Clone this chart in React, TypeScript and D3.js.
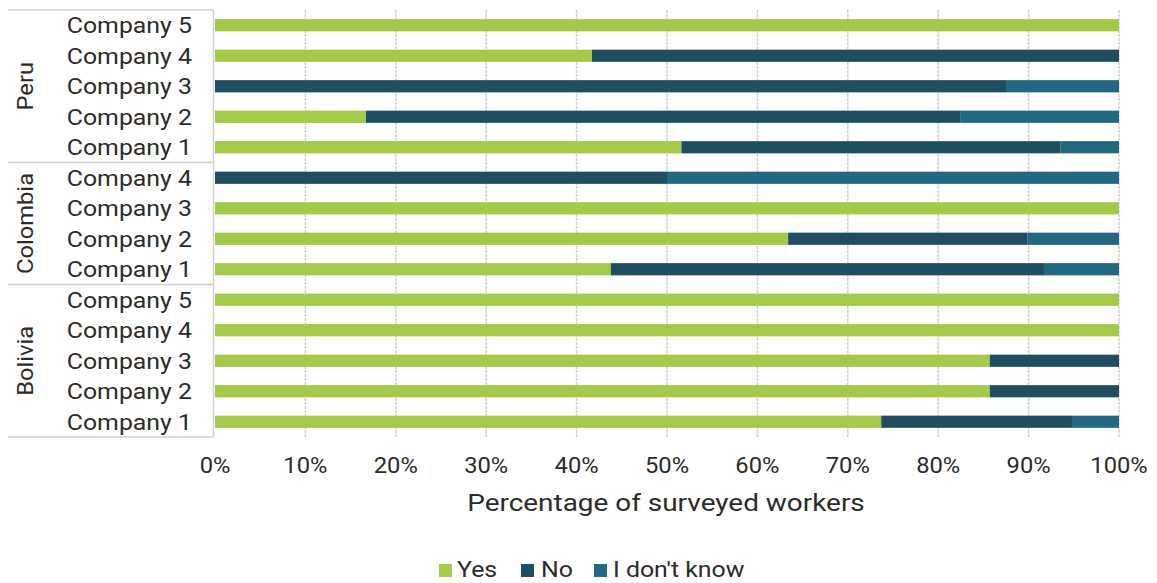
import React from "react";
import * as d3 from "d3";

const countries = ["Peru", "Colombia", "Bolivia"];
const companies: string[][] = [
  ["Company 5", "Company 4", "Company 3", "Company 2", "Company 1"],
  ["Company 4", "Company 3", "Company 2", "Company 1"],
  ["Company 5", "Company 4", "Company 3", "Company 2", "Company 1"],
];
const seriesNames = ["Yes", "No", "I don't know"];
const yesValues = [100, 41.7, 0, 16.7, 51.6, 0, 100, 63.4, 43.8, 100, 100, 85.7, 85.7, 73.7];
const noValues = [0, 58.3, 87.5, 65.8, 41.9, 50, 0, 26.5, 47.9, 0, 0, 14.3, 14.3, 21.1];
const dkValues = [0, 0, 12.5, 17.5, 6.5, 50, 0, 10.1, 8.3, 0, 0, 0, 0, 5.2];
const xTicks = [0, 10, 20, 30, 40, 50, 60, 70, 80, 90, 100];
const colors = ["#A2C948", "#1F4E62", "#226882"];

const W = 1157;
const H = 583;
const FONT = "Roboto, 'Noto Sans', sans-serif";
const TEXT = "#2b2b2b";
const SX = 1.13;

function T(props: {
  x: number;
  y: number;
  anchor?: "start" | "middle" | "end";
  size: number;
  rotate?: boolean;
  sx?: number;
  dy?: string;
  children: React.ReactNode;
}) {
  const s = props.sx ?? SX;
  const tr = props.rotate
    ? `translate(${props.x},${props.y}) rotate(-90) scale(${s},1)`
    : `translate(${props.x},${props.y}) scale(${s},1)`;
  return (
    <text
      transform={tr}
      textAnchor={props.anchor ?? "start"}
      fontSize={props.size}
      dy={props.dy}
      fill={TEXT}
    >
      {props.children}
    </text>
  );
}

export default function App() {
  const rows: { key: string; label: string; country: string; vals: number[] }[] = [];
  let idx = 0;
  companies.forEach((list, ci) => {
    list.forEach((c) => {
      rows.push({
        key: countries[ci] + "|" + c,
        label: c,
        country: countries[ci],
        vals: [yesValues[idx], noValues[idx], dkValues[idx]],
      });
      idx++;
    });
  });

  const top = 10;
  const bottom = 437;
  const x = d3.scaleLinear().domain([0, 100]).range([215, 1119]);
  const y = d3
    .scaleBand<string>()
    .domain(rows.map((r) => r.key))
    .range([top, bottom])
    .paddingInner(0.6)
    .paddingOuter(0.3);
  const step = y.step();

  const stack = d3.stack<number[]>().keys([0, 1, 2] as any).value((d: any, k: any) => d[k]);
  const stacked = stack(rows.map((r) => r.vals) as any);

  let acc = 0;
  const groups = companies.map((list, ci) => {
    const y0 = top + acc * step;
    acc += list.length;
    const y1 = top + acc * step;
    return { name: countries[ci], y0, y1 };
  });

  const legendItems = [
    { name: seriesNames[0], sx: 439, tx: 457 },
    { name: seriesNames[1], sx: 521, tx: 541 },
    { name: seriesNames[2], sx: 594, tx: 613 },
  ];

  return (
    <svg
      width={W}
      height={H}
      style={{ position: "absolute", left: 0, top: 0, background: "#fff" }}
      fontFamily={FONT}
    >
      {xTicks.map((t) => (
        <line
          key={"g" + t}
          x1={t === 0 ? 213.5 : x(t)}
          x2={t === 0 ? 213.5 : x(t)}
          y1={top}
          y2={bottom}
          stroke="#d0d0d0"
          strokeWidth={1.5}
          strokeDasharray={t === 0 ? undefined : "3 1"}
        />
      ))}
      <line x1={8} x2={213.5} y1={top} y2={top} stroke="#d0d0d0" strokeWidth={1.5} />
      {groups.map((g, i) => (
        <line key={"gl" + i} x1={8} x2={213.5} y1={g.y1} y2={g.y1} stroke="#d0d0d0" strokeWidth={1.5} />
      ))}
      {stacked.map((layer, si) => (
        <g key={"s" + si} fill={colors[si]}>
          {layer.map((d, i) =>
            d[1] - d[0] > 0 ? (
              <rect
                key={i}
                x={x(d[0])}
                width={x(d[1]) - x(d[0])}
                y={y(rows[i].key)!}
                height={y.bandwidth()}
              />
            ) : null
          )}
        </g>
      ))}
      {rows.map((r) => (
        <T key={"l" + r.key} x={192} y={y(r.key)! + y.bandwidth() / 2} dy="0.36em" anchor="end" size={22}>
          {r.label}
        </T>
      ))}
      {groups.map((g) => (
        <T key={"gn" + g.name} x={25} y={(g.y0 + g.y1) / 2} dy="0.36em" anchor="middle" size={22} rotate sx={1.08}>
          {g.name}
        </T>
      ))}
      {xTicks.map((t) => (
        <T key={"t" + t} x={x(t)} y={473} anchor="middle" size={22} sx={1.08}>
          {t + "%"}
        </T>
      ))}
      <T x={666} y={511} anchor="middle" size={24.5} sx={1.14}>
        Percentage of surveyed workers
      </T>
      {legendItems.map((l, i) => (
        <g key={"lg" + i}>
          <rect x={l.sx} y={564} width={13} height={13} fill={colors[i]} />
          <T x={l.tx} y={577} size={22}>
            {l.name}
          </T>
        </g>
      ))}
    </svg>
  );
}
